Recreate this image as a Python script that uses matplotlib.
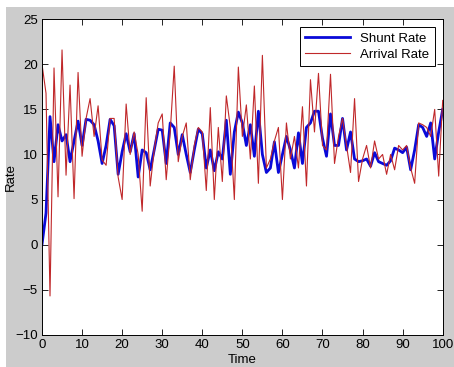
import matplotlib
matplotlib.use("Agg")
import matplotlib.pyplot as plt
from matplotlib.patches import Rectangle
import numpy as np

time = np.arange(0, 101)

shunt_rate = [
    0, 3.5, 14.2, 9.2, 13.3, 11.5, 12.2, 9.2, 11.5, 13.7,
    11.0, 13.9, 13.8, 13.3, 11.5, 9.0, 11.0, 13.9, 13.2, 7.8,
    10.3, 12.3, 10.3, 12.3, 7.5, 10.5, 10.2, 8.3, 10.5, 12.8,
    12.7, 9.0, 13.5, 13.0, 10.0, 12.2, 10.0, 8.0, 10.5, 12.8,
    12.3, 8.5, 10.5, 8.2, 10.3, 9.5, 13.8, 7.8, 12.5, 14.7,
    13.5, 11.0, 13.3, 9.8, 14.8, 10.0, 8.0, 8.5, 11.4, 8.0,
    10.0, 12.0, 10.5, 8.5, 12.4, 9.0, 13.0, 13.5, 14.8, 14.8,
    11.8, 9.8, 14.5, 11.0, 11.0, 14.0, 10.5, 12.5, 9.5, 9.2,
    9.3, 9.5, 8.7, 10.2, 9.2, 9.0, 8.8, 9.3, 10.7, 10.5,
    10.2, 10.8, 8.3, 10.5, 13.3, 13.0, 12.0, 13.5, 9.5, 12.5,
    15.0,
]

arrival_rate = [
    20.0, 16.8, -5.7, 19.6, 5.3, 21.6, 7.7, 17.7, 5.1, 19.1,
    9.8, 14.0, 16.2, 12.0, 15.4, 9.4, 8.8, 14.0, 14.0, 7.5,
    5.0, 15.6, 10.0, 12.5, 10.0, 3.7, 16.3, 6.5, 10.5, 13.5,
    14.5, 7.2, 12.5, 19.8, 9.2, 12.0, 13.5, 7.2, 11.0, 13.0,
    12.5, 6.0, 15.2, 5.0, 13.0, 7.0, 16.5, 13.0, 5.0, 19.7,
    12.0, 15.5, 9.5, 17.6, 6.8, 21.0, 8.5, 9.5, 11.5, 13.0,
    5.0, 13.5, 9.5, 12.0, 8.5, 15.3, 6.5, 18.3, 12.5, 19.0,
    11.0, 10.5, 18.9, 9.0, 12.0, 14.0, 11.0, 8.0, 16.2, 7.0,
    9.5, 11.0, 8.5, 11.5, 9.5, 10.0, 7.8, 10.0, 8.3, 11.0,
    10.5, 11.0, 8.5, 6.8, 13.5, 13.3, 13.0, 12.0, 15.0, 7.6,
    16.0,
]

x_ticks = list(range(0, 101, 10))
y_ticks = list(range(-10, 26, 5))

plt.rcParams["font.family"] = ["Liberation Sans", "DejaVu Sans"]

fig = plt.figure(figsize=(4.54, 3.67), dpi=100, facecolor="white")
# gray MATLAB-style figure panel, with a thin white strip at top and left
fig.patches.append(Rectangle((6 / 454, 0), 1, (367 - 7) / 367,
                             transform=fig.transFigure, facecolor="#cccccc",
                             edgecolor="none", zorder=-10))

ax = fig.add_axes([42 / 454, 32.3 / 367, 400.7 / 454, 315.4 / 367])
ax.set_facecolor("white")

ax.plot(time, shunt_rate, color="#0a0ad8", linewidth=2.0, label="Shunt Rate")
ax.plot(time, arrival_rate, color="#c0282a", linewidth=0.8, label="Arrival Rate")

ax.set_xlim(0, 100)
ax.set_ylim(-10, 25)
ax.set_xticks(x_ticks)
ax.set_yticks(y_ticks)
ax.tick_params(direction="in", top=True, right=True, length=4, width=0.6,
               labelsize=9.5, pad=3)
for spine in ax.spines.values():
    spine.set_linewidth(0.7)

ax.set_xlabel("Time", fontsize=9.5)
ax.set_ylabel("Rate", fontsize=9.5)
ax.xaxis.set_label_coords(0.5, -0.061)
ax.yaxis.set_label_coords(-0.062, 0.5)

leg = ax.legend(loc="upper right", fontsize=9.5, fancybox=False, framealpha=1,
                edgecolor="black", borderaxespad=0.6, handlelength=3.4,
                labelspacing=0.3, borderpad=0.4)
leg.get_frame().set_linewidth(0.7)

fig.savefig("out.png", dpi=100, facecolor=fig.get_facecolor())
